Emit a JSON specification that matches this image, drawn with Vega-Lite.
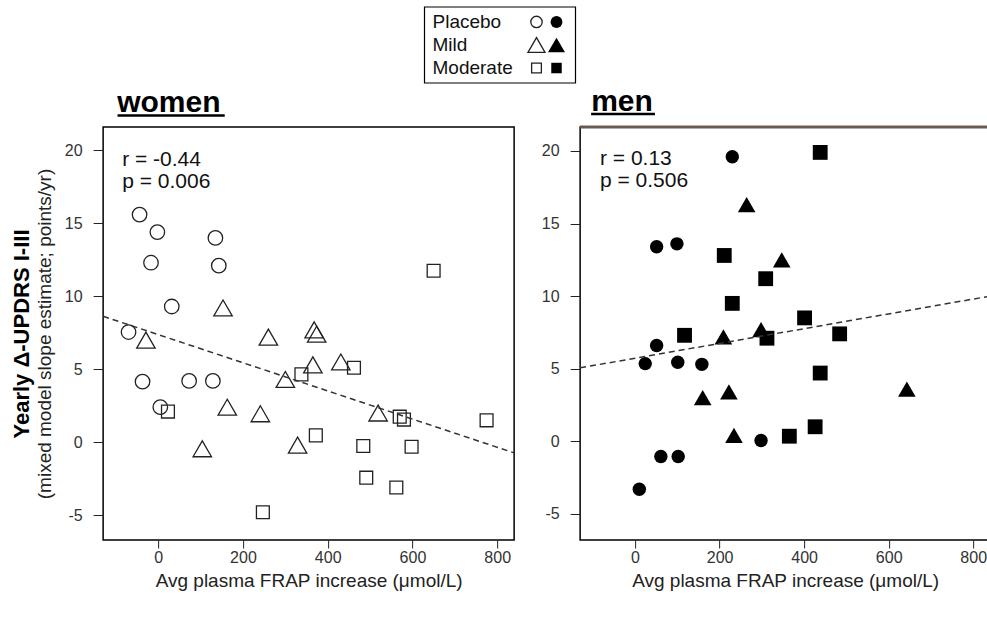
{
  "$schema": "https://vega.github.io/schema/vega-lite/v6.json",
  "padding": {"left": 9, "top": 6, "right": 0, "bottom": 0},
  "background": "white",
  "config": {
    "font": "Liberation Sans",
    "view": {"stroke": "black", "strokeWidth": 1.5},
    "axis": {"grid": false, "domain": false, "tickColor": "#222", "labelColor": "#333", "titleColor": "#222", "labelFontSize": 16, "titleFontWeight": "normal", "labelExpr": "datum.value"},
    "axisX": {"tickSize": 8, "labelPadding": 1, "titleFontSize": 19, "titlePadding": 6},
    "axisY": {"tickSize": 10, "labelPadding": 11}
  },
  "datasets": {
    "points": [
      {"sex": "women", "group": "Placebo", "frap": -44, "delta": 15.6},
      {"sex": "women", "group": "Placebo", "frap": -2, "delta": 14.4},
      {"sex": "women", "group": "Placebo", "frap": 135, "delta": 14.0},
      {"sex": "women", "group": "Placebo", "frap": -17, "delta": 12.3},
      {"sex": "women", "group": "Placebo", "frap": 143, "delta": 12.1},
      {"sex": "women", "group": "Placebo", "frap": 32, "delta": 9.3},
      {"sex": "women", "group": "Placebo", "frap": -70, "delta": 7.55},
      {"sex": "women", "group": "Placebo", "frap": -37, "delta": 4.15},
      {"sex": "women", "group": "Placebo", "frap": 73, "delta": 4.2},
      {"sex": "women", "group": "Placebo", "frap": 129, "delta": 4.2},
      {"sex": "women", "group": "Placebo", "frap": 5, "delta": 2.4},
      {"sex": "women", "group": "Mild", "frap": 153, "delta": 9.2},
      {"sex": "women", "group": "Mild", "frap": -29, "delta": 7.0},
      {"sex": "women", "group": "Mild", "frap": 260, "delta": 7.2},
      {"sex": "women", "group": "Mild", "frap": 368, "delta": 7.7},
      {"sex": "women", "group": "Mild", "frap": 374, "delta": 7.4},
      {"sex": "women", "group": "Mild", "frap": 365, "delta": 5.3},
      {"sex": "women", "group": "Mild", "frap": 431, "delta": 5.5},
      {"sex": "women", "group": "Mild", "frap": 300, "delta": 4.3},
      {"sex": "women", "group": "Mild", "frap": 163, "delta": 2.4},
      {"sex": "women", "group": "Mild", "frap": 241, "delta": 1.95},
      {"sex": "women", "group": "Mild", "frap": 519, "delta": 2.0},
      {"sex": "women", "group": "Mild", "frap": 104, "delta": -0.45},
      {"sex": "women", "group": "Mild", "frap": 329, "delta": -0.2},
      {"sex": "women", "group": "Moderate", "frap": 23, "delta": 2.1},
      {"sex": "women", "group": "Moderate", "frap": 338, "delta": 4.65},
      {"sex": "women", "group": "Moderate", "frap": 462, "delta": 5.1},
      {"sex": "women", "group": "Moderate", "frap": 650, "delta": 11.75},
      {"sex": "women", "group": "Moderate", "frap": 570, "delta": 1.75},
      {"sex": "women", "group": "Moderate", "frap": 580, "delta": 1.55},
      {"sex": "women", "group": "Moderate", "frap": 775, "delta": 1.5},
      {"sex": "women", "group": "Moderate", "frap": 372, "delta": 0.47},
      {"sex": "women", "group": "Moderate", "frap": 484, "delta": -0.26},
      {"sex": "women", "group": "Moderate", "frap": 598, "delta": -0.31},
      {"sex": "women", "group": "Moderate", "frap": 491, "delta": -2.43},
      {"sex": "women", "group": "Moderate", "frap": 562, "delta": -3.1},
      {"sex": "women", "group": "Moderate", "frap": 247, "delta": -4.8},
      {"sex": "men", "group": "Placebo", "frap": 230, "delta": 19.6},
      {"sex": "men", "group": "Placebo", "frap": 51, "delta": 13.4},
      {"sex": "men", "group": "Placebo", "frap": 99, "delta": 13.6},
      {"sex": "men", "group": "Placebo", "frap": 51, "delta": 6.6},
      {"sex": "men", "group": "Placebo", "frap": 24, "delta": 5.35},
      {"sex": "men", "group": "Placebo", "frap": 101, "delta": 5.45},
      {"sex": "men", "group": "Placebo", "frap": 158, "delta": 5.3},
      {"sex": "men", "group": "Placebo", "frap": 298, "delta": 0.05},
      {"sex": "men", "group": "Placebo", "frap": 61, "delta": -1.05},
      {"sex": "men", "group": "Placebo", "frap": 102, "delta": -1.05},
      {"sex": "men", "group": "Placebo", "frap": 10, "delta": -3.3},
      {"sex": "men", "group": "Mild", "frap": 264, "delta": 16.3},
      {"sex": "men", "group": "Mild", "frap": 347, "delta": 12.5},
      {"sex": "men", "group": "Mild", "frap": 209, "delta": 7.2},
      {"sex": "men", "group": "Mild", "frap": 298, "delta": 7.7},
      {"sex": "men", "group": "Mild", "frap": 160, "delta": 3.0},
      {"sex": "men", "group": "Mild", "frap": 222, "delta": 3.4},
      {"sex": "men", "group": "Mild", "frap": 234, "delta": 0.4},
      {"sex": "men", "group": "Mild", "frap": 643, "delta": 3.6},
      {"sex": "men", "group": "Moderate", "frap": 438, "delta": 19.9},
      {"sex": "men", "group": "Moderate", "frap": 211, "delta": 12.8},
      {"sex": "men", "group": "Moderate", "frap": 309, "delta": 11.2},
      {"sex": "men", "group": "Moderate", "frap": 230, "delta": 9.5},
      {"sex": "men", "group": "Moderate", "frap": 117, "delta": 7.3},
      {"sex": "men", "group": "Moderate", "frap": 312, "delta": 7.1},
      {"sex": "men", "group": "Moderate", "frap": 401, "delta": 8.5},
      {"sex": "men", "group": "Moderate", "frap": 484, "delta": 7.4},
      {"sex": "men", "group": "Moderate", "frap": 438, "delta": 4.7},
      {"sex": "men", "group": "Moderate", "frap": 426, "delta": 1.0},
      {"sex": "men", "group": "Moderate", "frap": 365, "delta": 0.35}
    ],
    "fits": [
      {"sex": "women", "frap": -130, "delta": 8.63},
      {"sex": "women", "frap": 840, "delta": -0.73},
      {"sex": "men", "frap": -130, "delta": 5.06},
      {"sex": "men", "frap": 840, "delta": 10.0}
    ],
    "legend": [
      {"group": "Placebo"},
      {"group": "Mild"},
      {"group": "Moderate"}
    ]
  },
  "spacing": 1,
  "center": true,
  "vconcat": [
    {
      "width": 248,
      "height": 76,
      "view": {"stroke": null},
      "layer": [
        {
          "data": {"values": [{"box": "frame"}]},
          "mark": {"type": "rect", "fill": null, "fillOpacity": 0, "stroke": "black", "strokeWidth": 1.2},
          "encoding": {
            "x": {"datum": 0, "type": "quantitative", "scale": {"domain": [0, 248], "nice": false, "zero": false}, "axis": null},
            "x2": {"datum": 151},
            "y": {"datum": 0, "type": "quantitative", "scale": {"domain": [0, 1], "nice": false, "zero": false}, "axis": null},
            "y2": {"datum": 1}
          }
        },
        {
          "data": {"name": "legend"},
          "layer": [
            {
              "mark": {"type": "text", "align": "left", "baseline": "middle", "fontSize": 19, "color": "#111"},
              "encoding": {
                "x": {"datum": 8, "type": "quantitative"},
                "y": {"field": "group", "type": "nominal", "sort": ["Placebo", "Mild", "Moderate"], "scale": {"type": "point", "padding": 0.65}, "axis": null},
                "text": {"field": "group"}
              }
            },
            {
              "mark": {"type": "point", "filled": false, "strokeWidth": 1.3, "color": "#222", "opacity": 1},
              "encoding": {
                "x": {"datum": 112, "type": "quantitative"},
                "y": {"field": "group", "type": "nominal", "sort": ["Placebo", "Mild", "Moderate"], "axis": null},
                "shape": {"field": "group", "type": "nominal", "scale": {"domain": ["Placebo", "Mild", "Moderate"], "range": ["circle", "triangle-up", "square"]}, "legend": null},
                "size": {"condition": [{"test": "datum.group === 'Mild'", "value": 290}, {"test": "datum.group === 'Moderate'", "value": 95}], "value": 130}
              }
            },
            {
              "mark": {"type": "point", "filled": true, "color": "black", "opacity": 1},
              "encoding": {
                "x": {"datum": 132, "type": "quantitative"},
                "y": {"field": "group", "type": "nominal", "sort": ["Placebo", "Mild", "Moderate"], "axis": null},
                "shape": {"field": "group", "type": "nominal", "legend": null},
                "size": {"condition": [{"test": "datum.group === 'Mild'", "value": 290}, {"test": "datum.group === 'Moderate'", "value": 110}], "value": 140}
              }
            }
          ]
        }
      ],
      "resolve": {"scale": {"y": "independent"}}
    },
    {
      "hconcat": [
        {
          "width": 411,
          "height": 413,
          "title": {"text": "women", "anchor": "start", "frame": "group", "fontSize": 30, "fontWeight": "bold", "dx": 14, "offset": -4, "color": "black"},
          "layer": [
            {
              "data": {"name": "points"},
              "transform": [{"filter": "datum.sex === 'women'"}],
              "mark": {"type": "point", "filled": false, "strokeWidth": 1.3, "color": "#222", "opacity": 1},
              "encoding": {
                "x": {"field": "frap", "type": "quantitative", "scale": {"domain": [-130, 840], "nice": false, "zero": false}, "axis": {"values": [0, 200, 400, 600, 800], "title": "Avg plasma FRAP increase (μmol/L)"}},
                "y": {"field": "delta", "type": "quantitative", "scale": {"domain": [-6.7, 21.6], "nice": false, "zero": false}, "axis": {"values": [-5, 0, 5, 10, 15, 20], "title": "(mixed model slope estimate; points/yr)", "titleFontSize": 19, "titleFontWeight": "normal", "titlePadding": 10}},
                "shape": {"field": "group", "type": "nominal", "scale": {"domain": ["Placebo", "Mild", "Moderate"], "range": ["circle", "triangle-up", "square"]}, "legend": null},
                "size": {"condition": [{"test": "datum.group === 'Mild'", "value": 340}, {"test": "datum.group === 'Moderate'", "value": 165}], "value": 210}
              }
            },
            {
              "data": {"name": "fits"},
              "transform": [{"filter": "datum.sex === 'women'"}],
              "mark": {"type": "line", "strokeDash": [6, 4], "strokeWidth": 1.5, "color": "#333"},
              "encoding": {
                "x": {"field": "frap", "type": "quantitative"},
                "y": {"field": "delta", "type": "quantitative", "scale": {"domain": [-6.7, 21.6], "nice": false, "zero": false}, "axis": {"orient": "left", "title": "Yearly Δ-UPDRS I-III", "titleFontSize": 22, "titleFontWeight": "bold", "titleColor": "black", "labels": false, "ticks": false, "domain": false, "titlePadding": 70}}
              }
            },
            {
              "data": {"values": [{"label": "r"}]},
              "mark": {"type": "text", "align": "left", "baseline": "top", "fontSize": 21, "lineHeight": 22, "color": "#111"},
              "encoding": {
                "x": {"datum": -85, "type": "quantitative"},
                "y": {"datum": 20.07, "type": "quantitative", "scale": {"domain": [-6.7, 21.6], "nice": false, "zero": false}, "axis": null},
                "text": {"value": ["r = -0.44", "p = 0.006"]}
              }
            },
            {
              "data": {"values": [{"label": "u"}]},
              "mark": {"type": "rule", "strokeWidth": 2.5, "color": "black"},
              "encoding": {
                "x": {"datum": -96, "type": "quantitative"},
                "x2": {"datum": 157},
                "y": {"datum": 22.39, "type": "quantitative", "scale": {"domain": [-6.7, 21.6], "nice": false, "zero": false}, "axis": null}
              }
            }
          ],
          "resolve": {"scale": {"y": "independent"}}
        },
        {
          "width": 410,
          "height": 413,
          "title": {"text": "men", "anchor": "start", "frame": "group", "fontSize": 30, "fontWeight": "bold", "dx": 11, "offset": -4, "color": "black"},
          "layer": [
            {
              "data": {"values": [{"label": "top"}]},
              "mark": {"type": "rule", "strokeWidth": 3, "color": "#6b5a4e"},
              "encoding": {
                "x": {"datum": -130, "type": "quantitative"},
                "x2": {"datum": 840},
                "y": {"datum": 21.65, "type": "quantitative"}
              }
            },
            {
              "data": {"name": "points"},
              "transform": [{"filter": "datum.sex === 'men'"}],
              "mark": {"type": "point", "filled": true, "color": "black", "opacity": 1},
              "encoding": {
                "x": {"field": "frap", "type": "quantitative", "scale": {"domain": [-130, 840], "nice": false, "zero": false}, "axis": {"values": [0, 200, 400, 600, 800], "title": "Avg plasma FRAP increase (μmol/L)"}},
                "y": {"field": "delta", "type": "quantitative", "scale": {"domain": [-6.8, 21.65], "nice": false, "zero": false}, "axis": {"values": [-5, 0, 5, 10, 15, 20], "title": null}},
                "shape": {"field": "group", "type": "nominal", "scale": {"domain": ["Placebo", "Mild", "Moderate"], "range": ["circle", "triangle-up", "square"]}, "legend": null},
                "size": {"condition": [{"test": "datum.group === 'Mild'", "value": 310}, {"test": "datum.group === 'Moderate'", "value": 220}], "value": 180}
              }
            },
            {
              "data": {"name": "fits"},
              "transform": [{"filter": "datum.sex === 'men'"}],
              "mark": {"type": "line", "strokeDash": [6, 4], "strokeWidth": 1.5, "color": "#333"},
              "encoding": {
                "x": {"field": "frap", "type": "quantitative"},
                "y": {"field": "delta", "type": "quantitative"}
              }
            },
            {
              "data": {"values": [{"label": "r"}]},
              "mark": {"type": "text", "align": "left", "baseline": "top", "fontSize": 21, "lineHeight": 22, "color": "#111"},
              "encoding": {
                "x": {"datum": -83, "type": "quantitative"},
                "y": {"datum": 20.2, "type": "quantitative"},
                "text": {"value": ["r =  0.13", "p = 0.506"]}
              }
            },
            {
              "data": {"values": [{"label": "u"}]},
              "mark": {"type": "rule", "strokeWidth": 2.5, "color": "black"},
              "encoding": {
                "x": {"datum": -104, "type": "quantitative"},
                "x2": {"datum": 47},
                "y": {"datum": 22.55, "type": "quantitative"}
              }
            }
          ]
        }
      ],
      "spacing": 22,
      "resolve": {"scale": {"x": "independent", "y": "independent", "shape": "independent", "size": "independent"}}
    }
  ]
}
